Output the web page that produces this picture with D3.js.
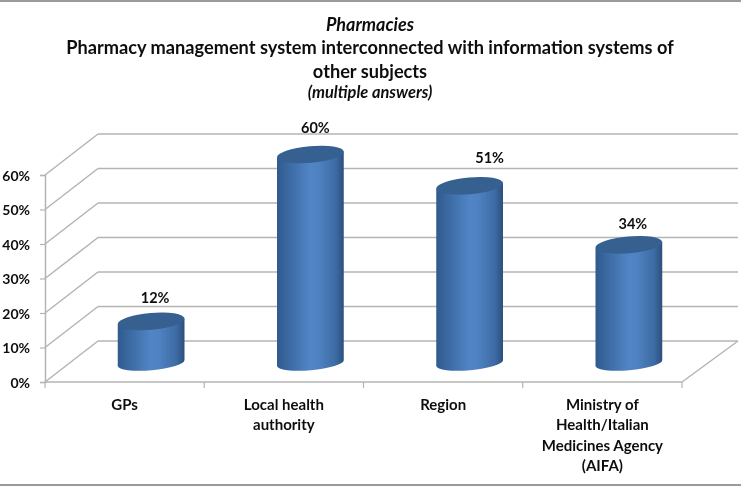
<!DOCTYPE html>
<html><head><meta charset="utf-8">
<script src="https://cdn.jsdelivr.net/npm/d3@7/dist/d3.min.js"></script>
<style>
html,body{margin:0;padding:0;background:#fff;overflow:hidden}
svg{display:block}
text{font-family:Lato,"Open Sans",sans-serif;font-weight:700;fill:#111}
</style></head><body>
<script>
const categories = ["GPs","Local health authority","Region","Ministry of Health/Italian Medicines Agency (AIFA)"];
const values = [12,60,51,34];
const valueLabels = ["12%","60%","51%","34%"];
const categoryLines = [["GPs"],["Local health","authority"],["Region"],["Ministry of","Health/Italian","Medicines Agency","(AIFA)"]];
const yTicks = [0,10,20,30,40,50,60];
const titleLines = ["Pharmacies","Pharmacy management system interconnected with information systems of","other subjects","(multiple answers)"];

const W=741,H=486;
const depthX=53, depthY=-41;
const svg=d3.select("body").append("svg").attr("width",W).attr("height",H);
const defs=svg.append("defs");
const grad=defs.append("linearGradient").attr("id","cyl");
[[0,"#2f5a8e"],[0.12,"#37659b"],[0.5,"#5185c6"],[0.62,"#4f82c2"],[0.88,"#3d6ba3"],[1,"#2c4f7c"]]
 .forEach(([o,c])=>grad.append("stop").attr("offset",o).attr("stop-color",c));
defs.append("filter").attr("id","soft").attr("x","-5%").attr("y","-5%").attr("width","110%").attr("height","110%")
 .append("feGaussianBlur").attr("stdDeviation",0.45);

const g=svg.append("g").attr("filter","url(#soft)");
const x=d3.scaleBand().domain(categories).range([45,682]);
const y=d3.scaleLinear().domain([0,60]).range([382,175]);
const yBar=d3.scaleLinear().domain([0,60]).range([363,154.5]);

// frame lines
g.append("line").attr("x1",0).attr("x2",W).attr("y1",1).attr("y2",1).attr("stroke","#9a9a9a").attr("stroke-width",2);
g.append("line").attr("x1",0).attr("x2",W).attr("y1",485).attr("y2",485).attr("stroke","#9a9a9a").attr("stroke-width",2);

// walls
const grid="#b4b4b4";
g.selectAll(".back").data(yTicks).enter().append("line")
 .attr("x1",45+depthX).attr("x2",W-3)
 .attr("y1",d=>y(d)+depthY).attr("y2",d=>y(d)+depthY)
 .attr("stroke",grid).attr("stroke-width",1.5);
g.selectAll(".side").data(yTicks).enter().append("line")
 .attr("x1",45).attr("y1",d=>y(d)).attr("x2",45+depthX).attr("y2",d=>y(d)+depthY)
 .attr("stroke",grid).attr("stroke-width",1.5);
g.append("line").attr("x1",682).attr("y1",382).attr("x2",682+depthX+3).attr("y2",382+depthY)
 .attr("stroke",grid).attr("stroke-width",1.5);

// axes
const xAxis=g.append("g").attr("transform","translate(0,382)")
 .call(d3.axisBottom(x).tickValues([]).tickSize(0));
xAxis.select(".domain").attr("stroke",grid).attr("stroke-width",1.5).attr("d","M45,0H682");
g.selectAll(".xt").data(d3.range(categories.length+1)).enter().append("line")
 .attr("x1",i=>45+i*x.step()).attr("x2",i=>45+i*x.step()).attr("y1",382).attr("y2",388)
 .attr("stroke",grid).attr("stroke-width",1.2);
const yAxis=g.append("g").attr("transform","translate(45,0)")
 .call(d3.axisLeft(y).tickValues(yTicks).tickSize(5).tickFormat(d=>d+"%"));
yAxis.select(".domain").attr("stroke",grid).attr("stroke-width",1.5);
yAxis.selectAll("line").attr("stroke",grid).attr("stroke-width",1.2);
yAxis.selectAll("text").attr("font-size",14).attr("x",-15).attr("dy","0.36em").attr("fill","#111").style("font-family","Lato").style("font-weight",700);

// cylinders
const rx=33.5, ry=8.4, ryBase=7.2, tilt=-5;
const labelDx=[4,5,20,4], labelDy=[-24,-27,-27.5,-21];
const cx=d=>x(d.c)+x.bandwidth()/2+depthX/2;
const yTop=d=>yBar(d.v);
const data=categories.map((c,i)=>({c,i,v:values[i],label:valueLabels[i],lines:categoryLines[i]}));
const t=tilt*Math.PI/180;
const dxe=rx*Math.cos(t), dye=rx*Math.sin(t);
const bars=g.selectAll(".bar").data(data).enter().append("g");
bars.append("path").attr("fill","url(#cyl)").attr("d",d=>{
  const c=cx(d),b=yBar(0),tp=yTop(d);
  return `M${c-dxe},${tp-dye} L${c-dxe},${b-dye} A${rx},${ryBase} ${tilt} 0 0 ${c+dxe},${b+dye} L${c+dxe},${tp+dye} Z`;
});
bars.append("ellipse").attr("cx",cx).attr("cy",yTop).attr("rx",rx).attr("ry",ry)
 .attr("transform",d=>`rotate(${tilt} ${cx(d)} ${yTop(d)})`).attr("fill","#36608f");
bars.append("text").attr("x",d=>cx(d)+labelDx[d.i]).attr("y",d=>yTop(d)+labelDy[d.i]).attr("dy","0.36em")
 .attr("text-anchor","middle").attr("font-size",14.5).text(d=>d.label);

// category labels
const labels=g.selectAll(".cat").data(data).enter().append("text")
 .attr("text-anchor","middle").attr("font-size",15);
labels.selectAll("tspan").data(d=>d.lines.map((l,i)=>({l,i,d}))).enter().append("tspan")
 .attr("x",e=>x(e.d.c)+x.bandwidth()/2)
 .attr("y",e=>410+e.i*20.4)
 .text(e=>e.l);

// title
const tY=[31,54,78,98], tS=[18,18.2,18.2,16.4], tI=["italic","normal","normal","italic"];
g.selectAll(".title").data(titleLines).enter().append("text")
 .attr("x",370).attr("y",(d,i)=>tY[i]).attr("text-anchor","middle")
 .attr("font-size",(d,i)=>tS[i]).attr("font-style",(d,i)=>tI[i]).text(d=>d);
</script>
</body></html>
